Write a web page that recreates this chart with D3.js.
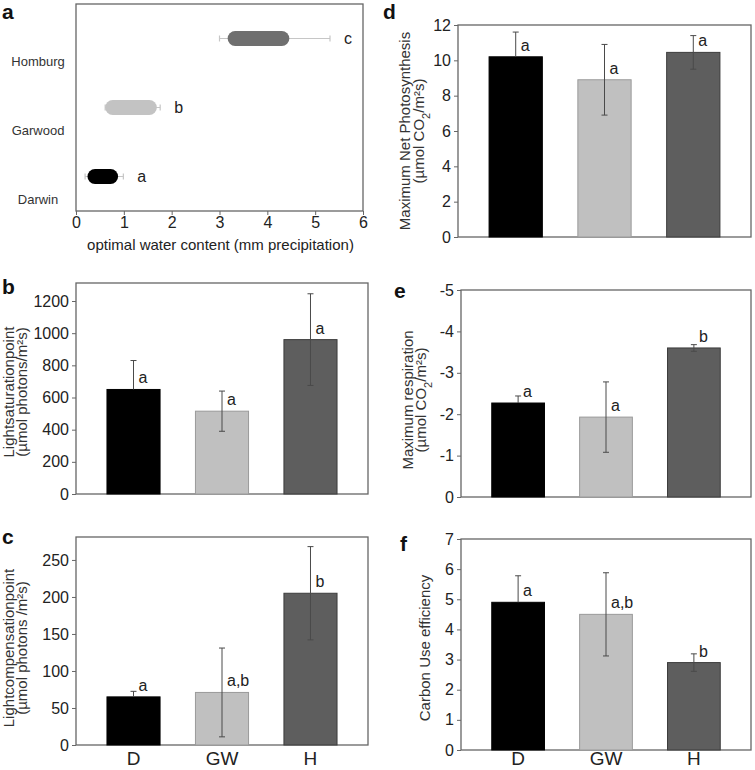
<!DOCTYPE html>
<html><head><meta charset="utf-8">
<script src="https://cdn.jsdelivr.net/npm/d3@7"></script>
<style>
body{margin:0;background:#fff}
svg{display:block}
text{font-family:"Liberation Sans",Arial,Helvetica,sans-serif;fill:#222}
</style>
</head><body>
<svg id="chart" width="755" height="770"></svg>
<script>
// ---------- Data ----------
// Panel a: optimal water content
const sites = ["Homburg", "Garwood", "Darwin"];
const siteColors = ["#6f6f6f", "#c3c3c3", "#000000"];
const waterWhiskerLow = [3.0, 0.61, 0.19];
const waterBoxLow = [3.17, 0.61, 0.24];
const waterBoxHigh = [4.46, 1.69, 0.88];
const waterWhiskerHigh = [5.31, 1.76, 0.99];
const waterLetters = ["c", "b", "a"];
const waterTicks = [0, 1, 2, 3, 4, 5, 6];

// Panels b–f: bar charts
const cats = ["D", "GW", "H"];
const barColors = ["#000000", "#c0c0c0", "#5e5e5e"];
const barStrokes = ["#000000", "#9a9a9a", "#3c3c3c"];

const satValues = [650, 515, 960];
const satErr = [180, 125, 285];
const satLetters = ["a", "a", "a"];
const satTicks = [0, 200, 400, 600, 800, 1000, 1200];

const compValues = [65, 71, 205];
const compErr = [7.5, 60, 63];
const compLetters = ["a", "a,b", "b"];
const compTicks = [0, 50, 100, 150, 200, 250];

const photoValues = [10.2, 8.9, 10.45];
const photoErr = [1.4, 2.0, 0.95];
const photoLetters = ["a", "a", "a"];
const photoTicks = [0, 2, 4, 6, 8, 10, 12];

const respValues = [-2.27, -1.93, -3.6];
const respErr = [0.17, 0.85, 0.08];
const respLetters = ["a", "a", "b"];
const respTicks = [0, -1, -2, -3, -4, -5];

const cueValues = [4.9, 4.5, 2.9];
const cueErr = [0.88, 1.38, 0.29];
const cueLetters = ["a", "a,b", "b"];
const cueTicks = [0, 1, 2, 3, 4, 5, 6, 7];

// ---------- Drawing ----------
const svg = d3.select("#chart");
const BOX = "#666";
const ERR = "#4a4a4a";

function box(g, l, t, r, b) {
  g.append("rect").attr("x", l).attr("y", t).attr("width", r - l).attr("height", b - t)
    .attr("fill", "none").attr("stroke", BOX).attr("stroke-width", 1.3);
}

function panelLabel(txt, x, y) {
  svg.append("text").attr("x", x).attr("y", y).text(txt)
    .style("font-size", "21px").style("font-weight", "bold").style("fill", "#111");
}

function yTitle(lines, yc) {
  lines.forEach(ln => {
    const t = svg.append("text")
      .attr("transform", `translate(${ln.x},${yc}) rotate(-90)`)
      .attr("text-anchor", "middle").style("font-size", "15px").style("fill", "#333");
    ln.parts.forEach(p => {
      const ts = t.append("tspan").text(p.t);
      if (p.sub) ts.attr("baseline-shift", "sub").style("font-size", "11px");
    });
  });
}

// Panel a
(function () {
  const l = 76, r = 363, t = 4, b = 211;
  const g = svg.append("g");
  const x = d3.scaleLinear().domain([0, 6]).range([l, r]);
  const y = d3.scaleBand().domain(sites).range([t, b]);
  box(g, l, t, r, b);
  const ax = g.append("g").attr("transform", `translate(0,${b})`)
    .call(d3.axisBottom(x).tickValues(waterTicks).tickFormat(d3.format("d")).tickSize(4).tickPadding(2));
  ax.select(".domain").remove();
  ax.selectAll("line").attr("stroke", BOX);
  ax.selectAll("text").style("font-size", "16px").style("font-family", "Liberation Sans, Arial").attr("fill", "#222");
  sites.forEach((s, i) => {
    const cy = y(s) + y.bandwidth() / 2;
    g.append("line").attr("x1", x(waterWhiskerLow[i])).attr("x2", x(waterWhiskerHigh[i]))
      .attr("y1", cy).attr("y2", cy).attr("stroke", "#c6c6c6").attr("stroke-width", 1.2);
    [waterWhiskerLow[i], waterWhiskerHigh[i]].forEach(v => {
      g.append("line").attr("x1", x(v)).attr("x2", x(v)).attr("y1", cy - 3).attr("y2", cy + 3)
        .attr("stroke", "#c6c6c6").attr("stroke-width", 1.2);
    });
    const h = 15;
    g.append("rect").attr("x", x(waterBoxLow[i])).attr("width", x(waterBoxHigh[i]) - x(waterBoxLow[i]))
      .attr("y", cy - h / 2).attr("height", h).attr("rx", h / 2).attr("ry", h / 2)
      .attr("fill", siteColors[i]);
    g.append("text").attr("x", x(waterWhiskerHigh[i]) + 14).attr("y", cy + 5).text(waterLetters[i])
      .style("font-size", "16px");
    g.append("text").attr("x", 38).attr("y", cy + 27).attr("text-anchor", "middle").text(s)
      .style("font-size", "13px").style("fill", "#333");
  });
  g.append("text").attr("x", (l + r) / 2 + 1).attr("y", 250).attr("text-anchor", "middle")
    .text("optimal water content (mm precipitation)").style("font-size", "15px");
  panelLabel("a", 2, 19);
})();

function barPanel(opt) {
  const {l, r, t, b, domain, ticks, values, errs, letters, fmt, xLabelY} = opt;
  const g = svg.append("g");
  const x = d3.scaleBand().domain(cats).range([l, r]).paddingInner(0.4).paddingOuter(0.35);
  const y = d3.scaleLinear().domain(domain).range([b, t]);
  box(g, l, t, r, b);
  const ay = g.append("g").attr("transform", `translate(${l},0)`)
    .call(d3.axisLeft(y).tickValues(ticks).tickFormat(fmt).tickSize(4).tickPadding(3));
  ay.select(".domain").remove();
  ay.selectAll("line").attr("stroke", BOX);
  ay.selectAll("text").style("font-size", "16px").style("font-family", "Liberation Sans, Arial").attr("fill", "#222");
  cats.forEach((c, i) => {
    const v = values[i], e = errs[i];
    g.append("rect").attr("x", x(c)).attr("width", x.bandwidth())
      .attr("y", Math.min(y(v), y(0))).attr("height", Math.abs(y(0) - y(v)))
      .attr("fill", barColors[i]).attr("stroke", barStrokes[i]).attr("stroke-width", 1);
    const cx = x(c) + x.bandwidth() / 2;
    const lo = v - e, hi = v + e;
    // error line over a black bar is invisible in the original, so only the part above the bar shows
    const lineLo = barColors[i] === "#000000" ? v : lo;
    g.append("line").attr("x1", cx).attr("x2", cx).attr("y1", y(lineLo)).attr("y2", y(hi))
      .attr("stroke", ERR).attr("stroke-width", 1);
    [lo, hi].forEach(vv => {
      if (vv === lo && lineLo === v) return;
      g.append("line").attr("x1", cx - 3).attr("x2", cx + 3).attr("y1", y(vv)).attr("y2", y(vv))
        .attr("stroke", ERR).attr("stroke-width", 1);
    });
    g.append("text").attr("x", cx + 5).attr("y", y(v) - 6).text(letters[i]).style("font-size", "16px");
    if (xLabelY) {
      g.append("text").attr("x", cx).attr("y", xLabelY).attr("text-anchor", "middle").text(c)
        .style("font-size", "19px");
    }
  });
}

// Panel b
barPanel({l: 76, r: 368, t: 283, b: 494, domain: [0, 1312], ticks: satTicks, values: satValues,
  errs: satErr, letters: satLetters, fmt: d3.format("d")});
panelLabel("b", 2, 294);
yTitle([{x: 14, parts: [{t: "Lightsaturationpoint"}]}, {x: 27, parts: [{t: "(µmol photons/m²s)"}]}], 392);

// Panel c
barPanel({l: 76, r: 368, t: 537, b: 745, domain: [0, 281], ticks: compTicks, values: compValues,
  errs: compErr, letters: compLetters, fmt: d3.format("d"), xLabelY: 765});
panelLabel("c", 2, 544);
yTitle([{x: 14, parts: [{t: "Lightcompensationpoint"}]}, {x: 27, parts: [{t: "(µmol photons /m²s)"}]}], 648);

// Panel d
barPanel({l: 458, r: 751, t: 25, b: 237, domain: [0, 12], ticks: photoTicks, values: photoValues,
  errs: photoErr, letters: photoLetters, fmt: d3.format("d")});
panelLabel("d", 383, 19);
yTitle([{x: 410, parts: [{t: "Maximum Net Photosynthesis"}]},
        {x: 424, parts: [{t: "(µmol CO"}, {t: "2", sub: true}, {t: "/m²s)"}]}], 131);

// Panel e
barPanel({l: 461, r: 751, t: 290, b: 497, domain: [0, -5], ticks: respTicks, values: respValues,
  errs: respErr.map(e => -e), letters: respLetters,
  fmt: d => d === 0 ? "0" : "-" + Math.abs(d)});
panelLabel("e", 394, 298);
yTitle([{x: 413, parts: [{t: "Maximum respiration"}]},
        {x: 426, parts: [{t: "(µmol CO"}, {t: "2", sub: true}, {t: "/m²s)"}]}], 400);

// Panel f
barPanel({l: 461, r: 751, t: 539, b: 750, domain: [0, 7], ticks: cueTicks, values: cueValues,
  errs: cueErr, letters: cueLetters, fmt: d3.format("d"), xLabelY: 765});
panelLabel("f", 400, 551);
yTitle([{x: 430, parts: [{t: "Carbon Use efficiency"}]}], 648);
</script>
</body></html>
